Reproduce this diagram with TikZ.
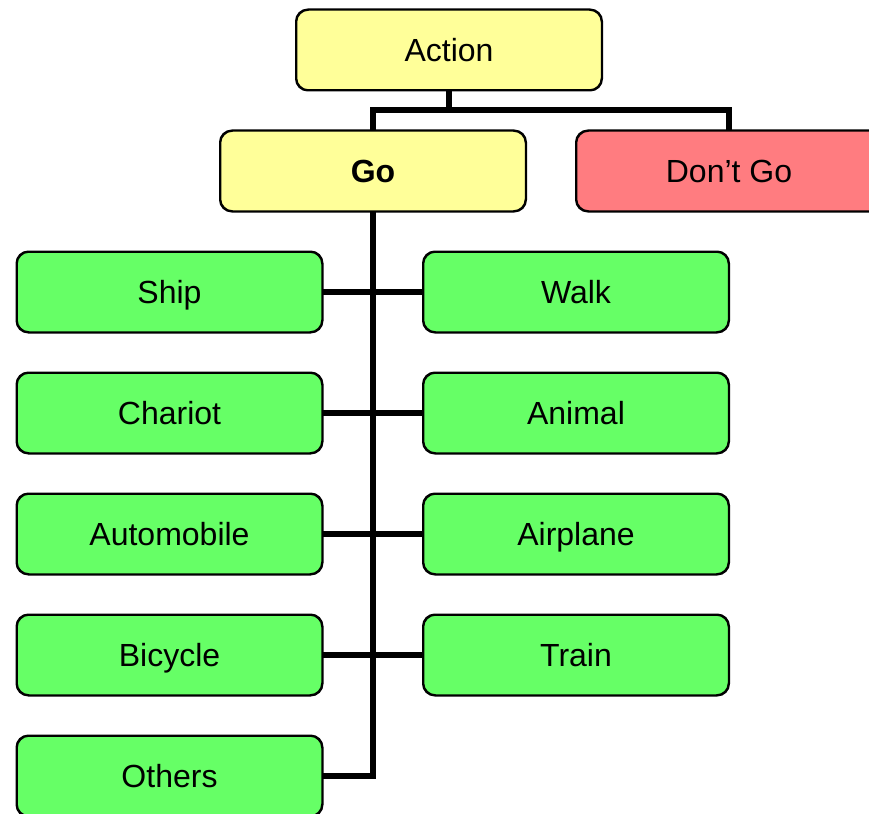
\documentclass[tikz,border=0pt]{standalone}
\usepackage{fontspec}
\setmainfont{Liberation Sans}
\definecolor{boxyellow}{HTML}{FFFF99}
\definecolor{boxred}{HTML}{FF7C80}
\definecolor{boxgreen}{HTML}{66FF66}
\tikzset{
  box/.style={draw=black, line width=1.5pt, rounded corners=12pt, minimum width=305pt, minimum height=80pt, inner sep=0pt, text height=23pt, text depth=0pt, font=\fontsize{32}{38}\selectfont},
  ybox/.style={box, fill=boxyellow},
  rbox/.style={box, fill=boxred},
  gbox/.style={box, fill=boxgreen},
  conn/.style={line width=5.5pt, draw=black}
}
\begin{document}
\begin{tikzpicture}[x=1pt,y=-1pt]
\useasboundingbox (0,0) rectangle (869,813);
\coordinate (j) at (449,110);
\coordinate (bend) at (373,776);
\node[ybox] (action) at (449,50) {Action};
\node[ybox, font=\fontsize{32}{38}\selectfont\bfseries] (go) at (373,171) {Go};
\node[rbox] (dontgo) at (729,171) {Don’t Go};
\node[gbox] (ship) at (169.5,292) {Ship};
\node[gbox] (walk) at (576,292) {Walk};
\node[gbox] (chariot) at (169.5,413) {Chariot};
\node[gbox] (animal) at (576,413) {Animal};
\node[gbox] (auto) at (169.5,534) {Automobile};
\node[gbox] (airplane) at (576,534) {Airplane};
\node[gbox] (bicycle) at (169.5,655) {Bicycle};
\node[gbox] (train) at (576,655) {Train};
\node[gbox] (others) at (169.5,776) {Others};
\draw[conn] (action.south) -- (j);
\draw[conn] (go.north) -- (go.north |- j) -- (dontgo.north |- j) -- (dontgo.north);
\draw[conn] (go.south) -- (bend) -- (others.east);
\draw[conn] (ship.east) -- (walk.west);
\draw[conn] (chariot.east) -- (animal.west);
\draw[conn] (auto.east) -- (airplane.west);
\draw[conn] (bicycle.east) -- (train.west);
\foreach \n in {action,go,dontgo,ship,walk,chariot,animal,auto,airplane,bicycle,train,others}{
  \draw[line width=1.5pt, rounded corners=12pt] (\n.north west) rectangle (\n.south east);
}
\end{tikzpicture}
\end{document}
